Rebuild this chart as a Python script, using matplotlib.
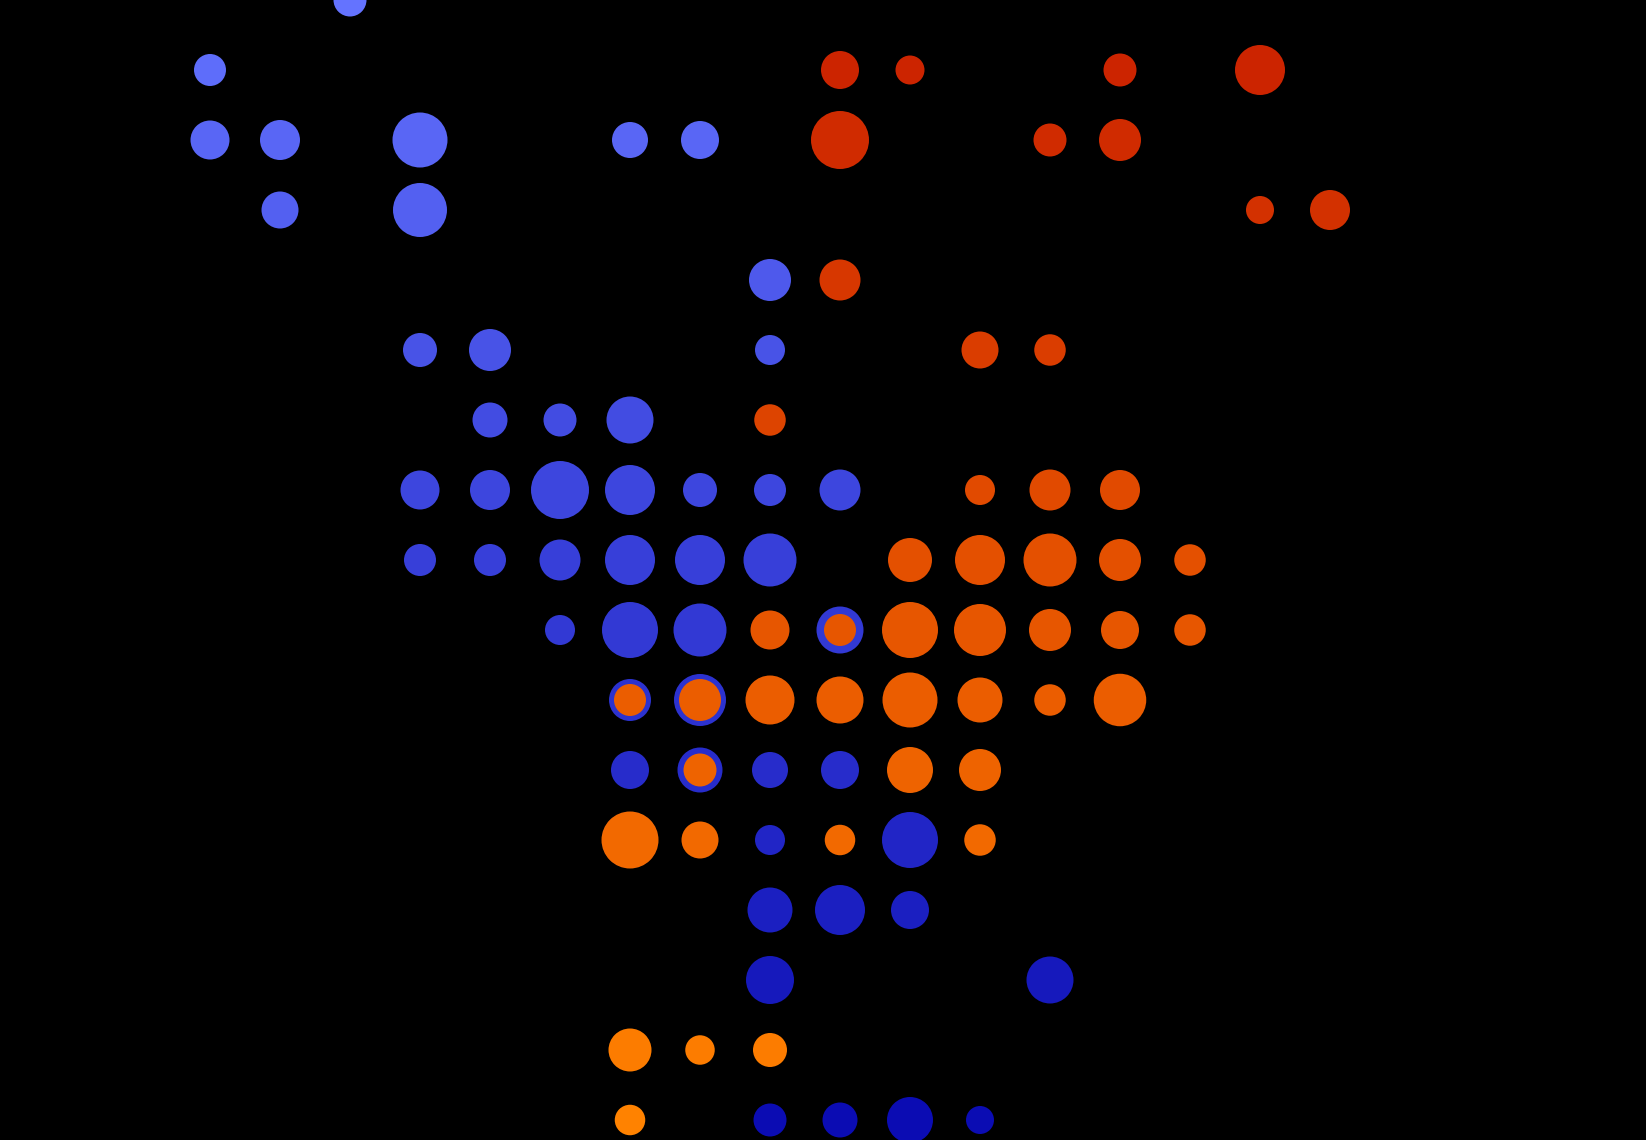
import matplotlib
matplotlib.use("Agg")
import matplotlib.pyplot as plt
from matplotlib.colors import LinearSegmentedColormap

# grid cell = 70 px, columns / rows are grid indices, size = diameter in px
blue_col = [5, 3, 3, 4, 6, 9, 10, 4, 6, 11, 6, 7, 11, 7, 8, 9,
            6, 7, 8, 9, 10, 11, 12, 6, 7, 8, 9, 10, 11,
            8, 9, 10, 12, 9, 10, 9, 10, 11, 12, 9, 11, 13,
            11, 12, 13, 11, 15, 11, 12, 13, 14]
blue_row = [0, 1, 2, 2, 2, 2, 2, 3, 3, 4, 5, 5, 5, 6, 6, 6,
            7, 7, 7, 7, 7, 7, 7, 8, 8, 8, 8, 8, 8,
            9, 9, 9, 9, 10, 10, 11, 11, 11, 11, 12, 12, 12,
            13, 13, 13, 14, 14, 16, 16, 16, 16]
blue_size = [33, 32, 39, 40, 55, 36, 38, 37, 54, 42, 34, 42, 30, 35, 33, 47,
             39, 40, 58, 50, 34, 32, 41, 32, 32, 41, 50, 50, 53,
             30, 56, 53, 47, 42, 52, 38, 45, 36, 38, 56, 30, 56,
             45, 50, 38, 48, 47, 33, 35, 46, 28]

red_col = [12, 13, 16, 18, 12, 15, 16, 18, 19, 12, 14, 15, 11,
           14, 15, 16, 13, 14, 15, 16, 17,
           11, 12, 13, 14, 15, 16, 17,
           9, 10, 11, 12, 13, 14, 15, 16,
           10, 13, 14, 9, 10, 12, 14, 9, 10, 11, 9]
red_row = [1, 1, 1, 1, 2, 2, 2, 3, 3, 4, 5, 5, 6,
           7, 7, 7, 8, 8, 8, 8, 8,
           9, 9, 9, 9, 9, 9, 9,
           10, 10, 10, 10, 10, 10, 10, 10,
           11, 11, 11, 12, 12, 12, 12, 15, 15, 15, 16]
red_size = [38, 29, 33, 50, 58, 33, 42, 28, 40, 41, 37, 31.5, 31.5,
            30, 41, 40, 44, 50, 53, 42, 31.5,
            39, 32, 56, 52, 42, 38, 31.5,
            32, 42, 49, 47, 55, 45, 31.5, 52.5,
            33, 46, 42, 57, 37, 30.5, 31.5, 43, 29.5, 34, 30.5]

blues = LinearSegmentedColormap.from_list("blues", ["#6473ff", "#0b0cb3"])
oranges = LinearSegmentedColormap.from_list("oranges", ["#c91e00", "#ff8200"])

W, H, DPI, CELL = 1646, 1140, 100, 70

fig = plt.figure(figsize=(W / DPI, H / DPI), dpi=DPI, facecolor="black")
ax = fig.add_axes([0, 0, 1, 1])
ax.set_facecolor("black")

def area(d):
    return [(x * 72 / DPI) ** 2 for x in d]

ax.scatter(blue_col, blue_row, s=area(blue_size), c=[r / 16 for r in blue_row],
           cmap=blues, vmin=0, vmax=1, linewidths=0)
ax.scatter(red_col, red_row, s=area(red_size), c=[r / 16 for r in red_row],
           cmap=oranges, vmin=0, vmax=1, linewidths=0)

ax.set_xlim(0, W / CELL)
ax.set_ylim(H / CELL, 0)
ax.axis("off")

fig.savefig("out.png", dpi=DPI, facecolor="black")
